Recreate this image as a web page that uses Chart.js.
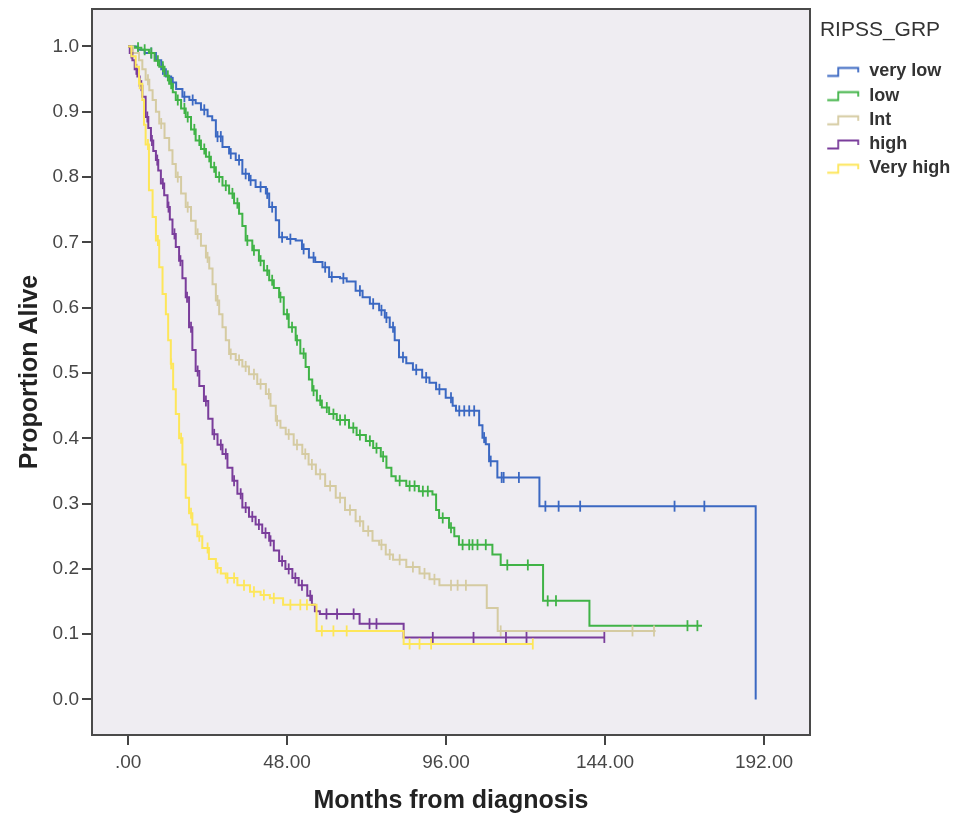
<!DOCTYPE html>
<html>
<head>
<meta charset="utf-8">
<title>RIPSS_GRP survival</title>
<script src="https://cdn.jsdelivr.net/npm/chart.js@4.4.1/dist/chart.umd.min.js"></script>
<style>
    html, body { margin: 0; padding: 0; background: #ffffff; }
    #wrap { position: relative; width: 966px; height: 823px; }
</style>
</head>
<body>
<div id="wrap"><canvas id="kmChart"></canvas></div>
<script>
// groups (legend order)
const groupNames = ["very low", "low", "Int", "high", "Very high"];
const groupColors = ["#3b68c2", "#40b347", "#d5cba2", "#7a3d9b", "#fde65a"];

// axis ticks
const xTickValues = [0, 48, 96, 144, 192];
const xTickLabels = [".00", "48.00", "96.00", "144.00", "192.00"];
const yTickValues = [0, 0.1, 0.2, 0.3, 0.4, 0.5, 0.6, 0.7, 0.8, 0.9, 1.0];
const yTickLabels = ["0.0", "0.1", "0.2", "0.3", "0.4", "0.5", "0.6", "0.7", "0.8", "0.9", "1.0"];

// very low
const veryLowMonths = [0, 3, 5, 8.4, 10, 11.4, 13, 14.5, 16.4, 18.5, 20.4, 22, 24, 25.4, 26.5, 28.5, 30.5, 32.5, 34.5, 36.5,
    38.5, 41.6, 42.6, 44.6, 45.6, 48, 50.6, 52.5, 54.6, 56.5, 58.7, 60.7, 64, 66, 68.7, 70.8, 73, 75.8, 77.5, 79,
    80.5, 81.8, 84, 86, 88.8, 91, 93, 95.9, 98, 99, 106, 107, 108, 109, 111.5, 124.2, 189.5];
const veryLowSurv = [1, 0.995, 0.99, 0.979, 0.965, 0.954, 0.945, 0.935, 0.923, 0.918, 0.913, 0.903, 0.893, 0.887, 0.862, 0.846, 0.836, 0.826, 0.805, 0.795,
    0.785, 0.775, 0.754, 0.734, 0.708, 0.705, 0.703, 0.69, 0.677, 0.67, 0.662, 0.647, 0.645, 0.64, 0.626, 0.616, 0.606, 0.596, 0.585, 0.57,
    0.55, 0.524, 0.515, 0.505, 0.493, 0.485, 0.475, 0.462, 0.45, 0.442, 0.42, 0.401, 0.391, 0.365, 0.34, 0.296, 0];
const veryLowCensor = [7, 10.5, 13.5, 17, 19.5, 23, 27, 28, 31, 33.5, 35.5, 37, 40, 42, 43.5, 46.5, 49, 53, 56, 59.5, 61.5, 65, 70, 74,
    76.5, 78, 80, 83, 87, 90, 94, 97.5, 100, 101.5, 103, 104.5, 107.5, 109.5, 112.8, 113.4, 118, 126, 130, 136.5, 165, 174];

// low
const lowMonths = [0, 2, 4, 6.3, 8, 9.4, 11, 12.4, 13.5, 14.4, 16, 17.4, 19, 20.4, 22, 23.5, 25, 26.5, 28.5, 30.5,
    32, 33.5, 34.5, 35.5, 37.5, 39.5, 41, 42.6, 44, 45.6, 47, 48.5, 50.6, 52, 53.6, 54.6, 55.6, 57, 58.5, 60.7,
    63, 66.7, 69, 71.8, 74, 76.3, 78, 79.5, 80.8, 84, 87.8, 91.9, 93, 93.9, 96.9, 98.5, 99.9, 110, 112.5, 125.3, 139.3, 173.3];
const lowSurv = [1, 0.998, 0.995, 0.99, 0.978, 0.969, 0.955, 0.943, 0.93, 0.918, 0.905, 0.892, 0.873, 0.856, 0.843, 0.831, 0.815, 0.80, 0.787, 0.775,
    0.76, 0.744, 0.725, 0.703, 0.688, 0.672, 0.657, 0.642, 0.63, 0.616, 0.59, 0.57, 0.55, 0.53, 0.509, 0.49, 0.473, 0.458, 0.447, 0.437,
    0.428, 0.416, 0.405, 0.396, 0.385, 0.372, 0.355, 0.342, 0.335, 0.327, 0.319, 0.314, 0.29, 0.278, 0.263, 0.25, 0.237, 0.222, 0.206, 0.151, 0.113, 0.113];
const lowCensor = [3, 5, 7, 9, 10.5, 12, 13, 15, 17, 18, 20, 21.5, 23, 24.5, 26, 27.5, 29.5, 31.5, 33, 36, 38, 40, 42, 43.5, 46, 48,
    49.5, 51, 53, 56, 58, 60, 62, 64, 65.5, 68, 70, 73, 75, 77, 82, 85, 86.5, 89, 90.5, 95, 97.5, 101, 103, 104, 105.5, 108,
    114.5, 120.7, 126.7, 129.2, 168.9, 171.9];

// Int
const intMonths = [0, 1.5, 3.3, 4.3, 5.3, 6.4, 7.4, 8.4, 9.4, 11, 12.4, 13.4, 14.4, 16, 17.4, 19, 20.4, 22, 23.5, 24.5,
    25.5, 26.5, 27.5, 28.5, 29.5, 30.5, 32.5, 34.5, 36.5, 39, 41.6, 43, 44.6, 46, 47.6, 50, 52.6, 54.5, 56.7, 59.5,
    62.7, 65.5, 68.7, 71, 73.8, 75.8, 77.8, 80, 84, 88, 91, 94, 108.3, 111.6, 159.3];
const intSurv = [1, 0.99, 0.979, 0.965, 0.949, 0.933, 0.918, 0.9, 0.882, 0.86, 0.841, 0.82, 0.80, 0.775, 0.754, 0.733, 0.713, 0.695, 0.677, 0.66,
    0.636, 0.611, 0.59, 0.57, 0.55, 0.529, 0.52, 0.51, 0.498, 0.483, 0.468, 0.45, 0.427, 0.416, 0.406, 0.39, 0.376, 0.36, 0.345, 0.327,
    0.309, 0.29, 0.273, 0.258, 0.243, 0.237, 0.222, 0.214, 0.203, 0.193, 0.184, 0.175, 0.14, 0.105, 0.105];
const intCensor = [6, 10, 15, 18, 21, 24, 27, 31, 33.5, 35.5, 38, 40, 42.5, 45, 48.5, 51, 53.5, 55.5, 58, 61, 64, 67, 70, 72.5,
    76.5, 79, 82, 86, 89.5, 92.5, 97.5, 99.5, 102, 112.5, 152.3, 158.8];

// high
const highMonths = [0, 0.5, 1.3, 2, 2.8, 3.5, 4.3, 5.3, 6.1, 6.9, 7.6, 8.4, 9.1, 9.9, 10.9, 11.9, 12.6, 13.4, 14.4, 15.4,
    16.4, 17.4, 18.4, 19.4, 20.4, 21.5, 22.9, 24.2, 25.5, 27, 28.5, 30, 31.5, 33, 34.5, 36.5, 38.5, 40.5, 42.6, 44,
    45.6, 47.5, 49.6, 51.5, 54.1, 55.5, 56.4, 57.9, 69.9, 83.2, 143.8];
const highSurv = [1, 0.99, 0.979, 0.965, 0.954, 0.94, 0.923, 0.892, 0.875, 0.856, 0.84, 0.826, 0.81, 0.79, 0.772, 0.754, 0.735, 0.713, 0.693, 0.672,
    0.645, 0.616, 0.57, 0.535, 0.503, 0.48, 0.457, 0.43, 0.406, 0.39, 0.376, 0.355, 0.335, 0.315, 0.294, 0.28, 0.268, 0.255, 0.243, 0.228,
    0.212, 0.2, 0.186, 0.175, 0.159, 0.145, 0.135, 0.131, 0.116, 0.095, 0.095];
const highCensor = [1, 2.5, 4, 5.8, 7.2, 8.8, 10.5, 12.2, 14, 15.8, 17.8, 19, 21, 23.5, 26, 28, 29.5, 32, 34, 35.5, 37.5, 39.5,
    41.5, 43, 46.5, 48.5, 50.5, 52.5, 55, 59.9, 63.1, 68.1, 72.9, 75, 92, 104.3, 114.1, 120.3, 143.8];

// Very high
const veryHighMonths = [0, 1, 2.3, 3.3, 4.3, 4.8, 5.3, 6.3, 7.4, 8.4, 9.4, 10.4, 11.4, 12.1, 12.9, 13.6, 14.4, 15.4, 16.4, 17.4,
    18.4, 19.4, 20.9, 22.4, 24.4, 26.5, 28, 29.5, 33, 36.8, 40, 42.8, 46.8, 56.9, 83.2, 122.2];
const veryHighSurv = [1, 0.985, 0.969, 0.943, 0.918, 0.88, 0.85, 0.78, 0.739, 0.703, 0.662, 0.621, 0.59, 0.55, 0.514, 0.475, 0.437, 0.4, 0.36, 0.309,
    0.285, 0.268, 0.25, 0.232, 0.215, 0.2015, 0.193, 0.186, 0.175, 0.165, 0.16, 0.155, 0.145, 0.105, 0.085, 0.085];
const veryHighCensor = [3.5, 6, 9, 13, 16, 19, 21.5, 24, 27, 30, 32, 35, 38, 41, 44, 49, 52, 54, 58.5, 62, 66, 85, 88, 91.5, 122.2];

const groupMonths = [veryLowMonths, lowMonths, intMonths, highMonths, veryHighMonths];
const groupSurv = [veryLowSurv, lowSurv, intSurv, highSurv, veryHighSurv];
const groupCensor = [veryLowCensor, lowCensor, intCensor, highCensor, veryHighCensor];

Chart.defaults.font.family = '"Liberation Sans", Arial, sans-serif';

// survival value of a step curve at time t (value after the last step at or before t)
function stepValue(months, surv, t) {
    let v = surv[0];
    for (let i = 0; i < months.length; i++) {
        if (months[i] <= t) v = surv[i];
        else break;
    }
    return v;
}

// small step-shaped legend icon, like the SPSS legend
function makeStepIcon(color) {
    const c = document.createElement('canvas');
    c.width = 44;
    c.height = 16;
    const g = c.getContext('2d');
    g.strokeStyle = color;
    g.lineWidth = 1.8;
    g.beginPath();
    g.moveTo(11, 12.5);
    g.lineTo(22, 12.5);
    g.lineTo(22, 4.5);
    g.lineTo(42, 4.5);
    g.lineTo(42, 9);
    g.stroke();
    return c;
}

const datasets = [];
groupNames.forEach((name, i) => {
    const months = groupMonths[i];
    const surv = groupSurv[i];
    datasets.push({
        label: name,
        data: months.map((m, k) => ({ x: m, y: surv[k] })),
        showLine: true,
        stepped: 'before',
        borderColor: groupColors[i],
        backgroundColor: groupColors[i],
        borderWidth: 2,
        pointRadius: 0,
        pointHoverRadius: 0,
        pointStyle: makeStepIcon(groupColors[i]),
        order: 10 - i
    });
});
groupNames.forEach((name, i) => {
    datasets.push({
        label: name + ' censored',
        data: groupCensor[i].map(t => ({ x: t, y: stepValue(groupMonths[i], groupSurv[i], t) })),
        showLine: false,
        pointStyle: 'line',
        rotation: 90,
        pointRadius: 5.5,
        pointHoverRadius: 5.5,
        borderColor: groupColors[i],
        backgroundColor: groupColors[i],
        borderWidth: 1.8,
        order: 10 - i
    });
});

/**
 * plot area fill and frame
 */
const plotFrame = {
    id: 'plotFrame',
    beforeDraw(chart) {
        const { ctx, chartArea: a } = chart;
        ctx.save();
        ctx.fillStyle = '#efedf2';
        ctx.fillRect(a.left, a.top, a.right - a.left, a.bottom - a.top);
        ctx.restore();
    },
    afterDatasetsDraw(chart) {
        const { ctx, chartArea: a } = chart;
        ctx.save();
        ctx.strokeStyle = '#4a4a4a';
        ctx.lineWidth = 2;
        ctx.strokeRect(a.left, a.top, a.right - a.left, a.bottom - a.top);
        ctx.restore();
    }
};

var ctx = document.getElementById('kmChart');
var kmChart = new Chart(ctx, {
    type: 'scatter',
    data: { datasets: datasets },
    plugins: [plotFrame],
    options: {
        responsive: true,
        maintainAspectRatio: false,
        animation: false,
        layout: { padding: { top: 9, right: 16, bottom: 0, left: 0 } },
        plugins: {
            tooltip: { enabled: false },
            legend: {
                position: 'right',
                align: 'start',
                maxWidth: 140,
                title: {
                    display: true,
                    text: 'RIPSS_GRP',
                    color: '#333333',
                    position: 'center',
                    font: { size: 21 },
                    padding: { top: 11, bottom: 11 }
                },
                labels: {
                    usePointStyle: true,
                    pointStyleWidth: 44,
                    padding: 6.2,
                    color: '#333333',
                    font: { size: 18, weight: 'bold' },
                    filter: item => item.datasetIndex < groupNames.length,
                    sort: (a, b) => a.datasetIndex - b.datasetIndex
                }
            }
        },
        scales: {
            x: {
                type: 'linear',
                position: 'bottom',
                min: -10.9,
                max: 205.9,
                afterBuildTicks: s => { s.ticks = xTickValues.map(v => ({ value: v })); },
                afterFit: s => { s.height = 88; s.paddingLeft = 0; s.paddingRight = 0; },
                ticks: {
                    autoSkip: false,
                    maxRotation: 0,
                    padding: 6,
                    color: '#474747',
                    font: { size: 19 },
                    callback: v => xTickLabels[xTickValues.indexOf(v)]
                },
                grid: { drawOnChartArea: false, drawTicks: true, tickLength: 10, color: '#444444', lineWidth: 2 },
                border: { display: true, color: '#444444', width: 2 },
                title: {
                    display: true,
                    text: 'Months from diagnosis',
                    color: '#222222',
                    font: { size: 25, weight: 'bold' },
                    padding: { top: 0, bottom: 7 }
                }
            },
            y: {
                type: 'linear',
                min: -0.0544,
                max: 1.0574,
                afterBuildTicks: s => { s.ticks = yTickValues.map(v => ({ value: v })); },
                afterFit: s => { s.width = 92; s.paddingTop = 0; s.paddingBottom = 0; },
                ticks: {
                    autoSkip: false,
                    padding: 3,
                    color: '#474747',
                    font: { size: 19 },
                    callback: v => yTickLabels[yTickValues.indexOf(v)]
                },
                grid: { drawOnChartArea: false, drawTicks: true, tickLength: 10, color: '#444444', lineWidth: 2 },
                border: { display: true, color: '#444444', width: 2 },
                title: {
                    display: true,
                    text: 'Proportion Alive',
                    color: '#222222',
                    font: { size: 25, weight: 'bold' },
                    padding: { top: 15, bottom: 0 }
                }
            }
        }
    }
});
</script>
</body>
</html>
